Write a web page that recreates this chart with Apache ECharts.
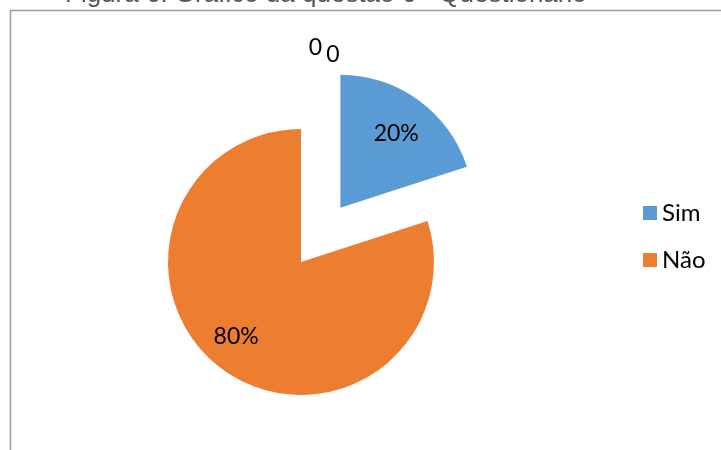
<!DOCTYPE html>
<html>
<head>
<meta charset="utf-8">
<script src="https://cdn.jsdelivr.net/npm/echarts@6/dist/echarts.min.js"></script>
<style>
  html, body { margin: 0; padding: 0; background: #ffffff; }
  #chart { width: 721px; height: 450px; }
</style>
</head>
<body>
<div id="chart"></div>
<script>
  const categories = ['Sim', 'Não'];
  const values = [20, 80];
  const emptyValues = [0, 0];
  const colors = ['#5B9BD5', '#ED7D31'];

  // nudges for the data labels (Excel puts them further out than ECharts does)
  const labelShift = [[15, -18], [-24, 18], [56, -66], [151, -84]];

  const chartDom = document.getElementById('chart');
  const myChart = echarts.init(chartDom, null, { renderer: 'canvas' });

  const seriesData = categories.map((name, i) => ({
    name: name,
    value: values[i],
    selected: i === 0,
    itemStyle: { color: colors[i] },
    label: { position: 'inside', formatter: '{d}%' }
  }));
  emptyValues.forEach((v, i) => {
    seriesData.push({
      name: 'vazio' + (i + 1),
      value: v,
      itemStyle: { color: '#ffffff' },
      label: { position: 'outside', formatter: '{c}' },
      labelLine: { show: false }
    });
  });

  const option = {
    animation: false,
    title: {
      text: 'Figura 6: Gráfico da questão 6 - Questionário',
      left: 60,
      top: -23,
      textStyle: {
        fontFamily: 'Liberation Sans',
        fontSize: 26,
        fontWeight: 'normal',
        color: '#4d5766'
      }
    },
    graphic: [{
      type: 'rect',
      shape: { x: 10.5, y: 10.5, width: 760, height: 500 },
      style: { fill: 'none', stroke: '#9e9e9e', lineWidth: 1.5 },
      silent: true
    }],
    legend: {
      data: categories,
      orient: 'vertical',
      left: 638,
      top: 196,
      itemWidth: 14,
      itemHeight: 14,
      itemGap: 23,
      icon: 'rect',
      selectedMode: false,
      textStyle: {
        fontFamily: 'Lato',
        fontSize: 24,
        color: '#000000'
      }
    },
    series: [{
      type: 'pie',
      center: [301, 262],
      radius: 133,
      startAngle: 90,
      clockwise: true,
      selectedMode: 'single',
      selectedOffset: 67,
      avoidLabelOverlap: true,
      itemStyle: { borderWidth: 0 },
      emphasis: { disabled: true },
      label: {
        fontFamily: 'Lato',
        fontSize: 23,
        color: '#000000'
      },
      labelLayout: function (params) {
        const s = labelShift[params.dataIndex];
        return { dx: s[0], dy: s[1] };
      },
      data: seriesData
    }]
  };

  myChart.setOption(option);
</script>
</body>
</html>
